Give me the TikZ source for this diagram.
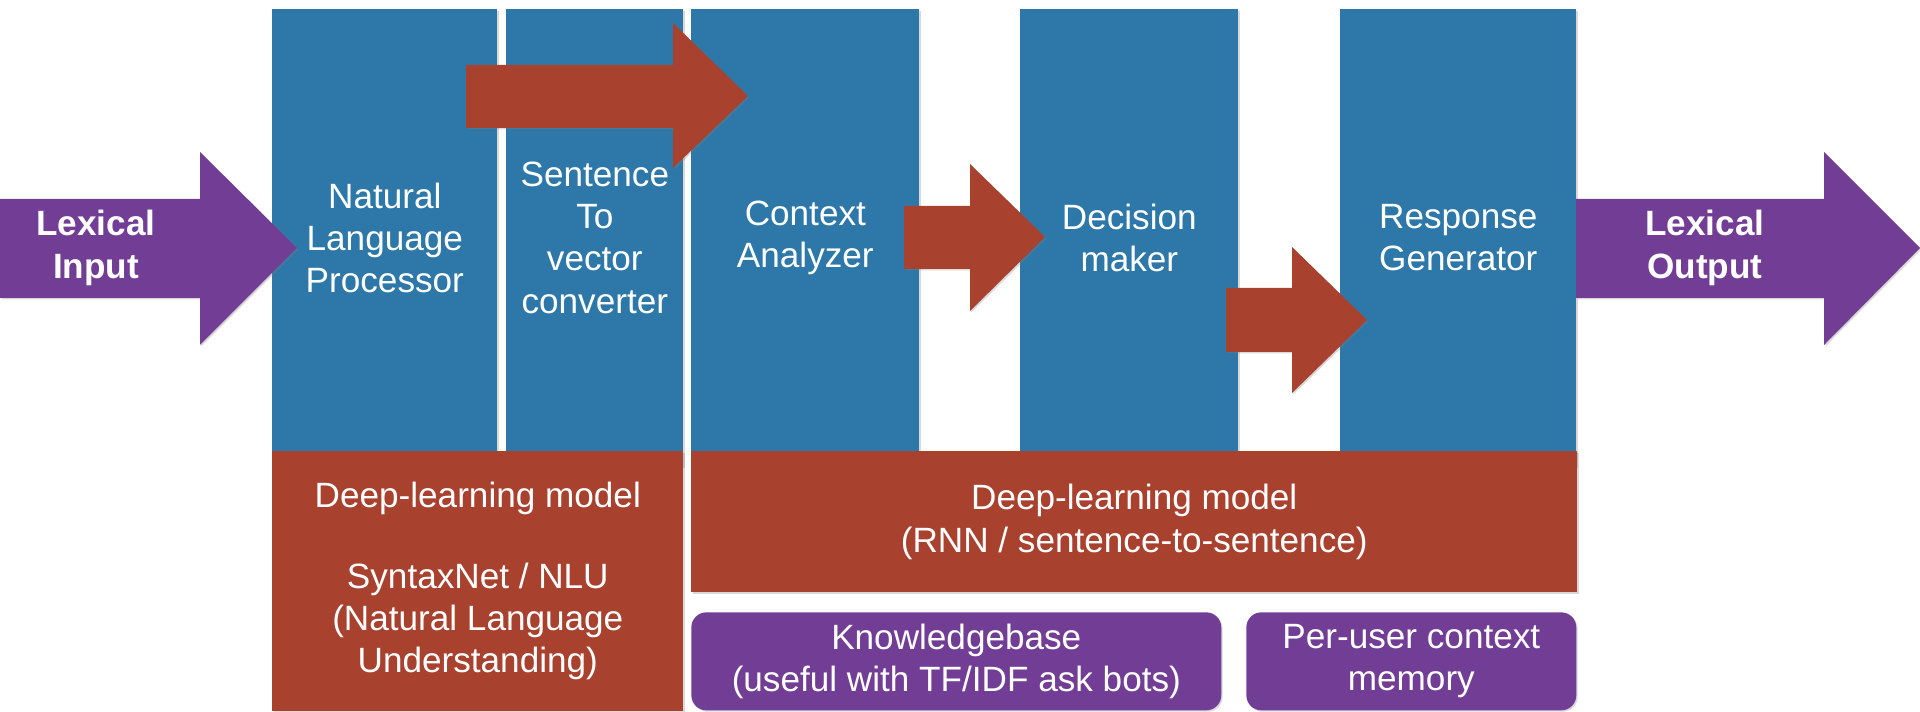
\documentclass[tikz,border=0pt]{standalone}
\usepackage{fontspec}
\setmainfont{Liberation Sans}
\usetikzlibrary{positioning,shadows}
\definecolor{StageBlue}{HTML}{2D78A8}
\definecolor{ModelRed}{HTML}{A9412F}
\definecolor{LexPurple}{HTML}{723E95}

\begin{document}
\begin{tikzpicture}[x=0.02cm,y=-0.02cm,font=\fontsize{20}{24}\selectfont,
    soft/.style={drop shadow={shadow xshift=0.8pt,shadow yshift=-0.8pt,opacity=0.3}},
    stage/.style={soft,fill=StageBlue,text=white,align=center,anchor=north west,inner sep=0pt,minimum height=9.14cm},
    model/.style={soft,fill=ModelRed,text=white,align=center,anchor=north west,inner sep=0pt},
    store/.style={soft,fill=LexPurple,text=white,align=center,anchor=north west,inner sep=0pt,rounded corners=0.3cm,minimum height=1.96cm},
    flow/.style={soft,fill=ModelRed},
    lexical/.style={soft,fill=LexPurple},
    lexlabel/.style={text=white,align=center,font=\fontsize{20}{24}\selectfont\bfseries}]
  \useasboundingbox (0,0) rectangle (1920,712);
  % pipeline stages
  \node[stage,minimum width=4.50cm] (nlp) at (272,9) {Natural\\Language\\Processor};
  \node[stage,minimum width=3.54cm] (s2v) at (506,9) {Sentence\\To\\vector\\converter};
  \node[stage,minimum width=4.56cm] (ctx) at (691,9) {Context\\Analyzer};
  \node[stage,minimum width=4.36cm] (dec) at (1020,9) {Decision\\maker};
  \node[stage,minimum width=4.72cm] (resp) at (1340,9) {Response\\Generator};
  % models underneath
  \node[model,minimum width=8.22cm,minimum height=5.20cm] (nlu) at (272,451)
    {Deep-learning model\\[22pt]SyntaxNet / NLU\\(Natural Language\\Understanding)};
  \node[model,minimum width=17.72cm,minimum height=2.82cm] (rnn) at (691,451)
    {Deep-learning model\\(RNN / sentence-to-sentence)};
  \node[store,minimum width=10.60cm] (kb) at (691,612) {Knowledgebase\\(useful with TF/IDF ask bots)};
  \node[store,minimum width=6.60cm] (mem) at (1246,612) {Per-user context\\memory};
  % flow arrows
  \fill[flow] (466,65) -- (673,65) -- (673,23) -- (748,96) -- (673,168) -- (673,128) -- (466,128) -- cycle;
  \fill[flow] (904,206) -- (970,206) -- (970,164) -- (1045,237) -- (970,311) -- (970,269) -- (904,269) -- cycle;
  \fill[flow] (1226,288) -- (1292,288) -- (1292,247) -- (1367,320) -- (1292,393) -- (1292,352) -- (1226,352) -- cycle;
  % input / output
  \fill[lexical] (0,199) -- (200,199) -- (200,152) -- (297,248) -- (200,345) -- (200,298) -- (0,298) -- cycle;
  \fill[lexical] (1576,199) -- (1824,199) -- (1824,152) -- (1920,248) -- (1824,345) -- (1824,298) -- (1576,298) -- cycle;
  \node[lexlabel] (lexin) at (96,248) {Lexical\\Input};
  \node[lexlabel] (lexout) at (1705,248) {Lexical\\Output};
\end{tikzpicture}
\end{document}
